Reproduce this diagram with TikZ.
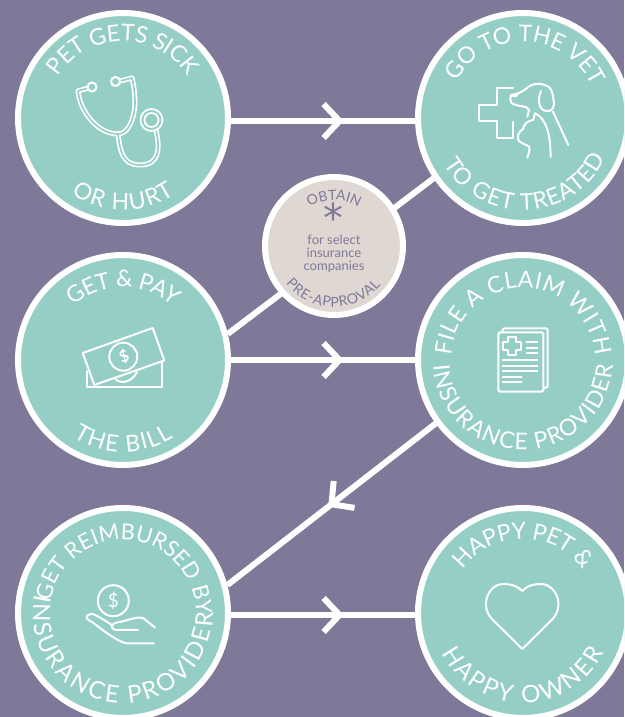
\documentclass[tikz,border=0pt]{standalone}
\usepackage{fontspec}
\setmainfont{Lato}
\newfontfamily\arcfont{Lato}
\newfontfamily\astfont{DejaVu Sans}
\usetikzlibrary{calc,decorations.markings}
\definecolor{bgpurple}{HTML}{807899}
\definecolor{teal}{HTML}{95CEC5}
\definecolor{stone}{HTML}{DFD8D2}
\tikzset{
  bigcircle/.style={circle,draw=white,fill=teal,line width=6pt,minimum size=210pt,inner sep=0pt,outer sep=3pt},
  smallcircle/.style={circle,draw=white,fill=stone,line width=6pt,minimum size=138pt,inner sep=0pt,outer sep=3pt},
  link/.style={draw=white,line width=6pt},
  icon/.style={draw=white,line width=2pt,line cap=round,line join=round},
  arcletter/.style={inner sep=0pt,outer sep=0pt,anchor=base},
  chevron/.style={postaction={decorate},decoration={markings,mark=at position #1 with {\draw[white,line width=6pt,line cap=butt,miter limit=10] (-16pt,-17pt)--(0pt,0pt)--(-16pt,17pt);}}},
}
\newcounter{ltr}
\newcommand\PlaceLetter[7]{\stepcounter{ltr}\node[arcletter,rotate=#4,text=#6] (ltr\theltr) at ($(#1)+(#2:#3pt)$) {\fontsize{#5}{#5}\selectfont\arcfont #7};}
\ExplSyntaxOn
\str_new:N \l_at_str
\tl_new:N \l_at_prefix_tl
\tl_new:N \l_at_ang_tl
\tl_new:N \l_at_rot_tl
\int_new:N \l_at_idx_int
\box_new:N \l_at_a_box
\box_new:N \l_at_b_box
\tl_new:N \l_at_total_tl
% #1 node, #2 radius, #3 centre angle, #4 dir (1 top, -1 bottom), #5 size, #6 tracking, #7 colour, #8 text
\NewDocumentCommand\ArcText{mmmmmmmm}
{
  \group_begin:
  \str_set:Nn \l_at_str {#8}
  \hbox_set:Nn \l_at_a_box {\pgfinterruptpicture\fontsize{#5}{#5}\selectfont\arcfont \l_at_str\endpgfinterruptpicture}
  \tl_set:Nx \l_at_total_tl
    {\fp_eval:n {\dim_to_fp:n {\box_wd:N \l_at_a_box} + (\str_count:N \l_at_str - 1)*(#6)}}
  \tl_clear:N \l_at_prefix_tl
  \int_zero:N \l_at_idx_int
  \str_map_inline:Nn \l_at_str
    {
      \tl_put_right:Nn \l_at_prefix_tl {##1}
      \hbox_set:Nn \l_at_a_box {\pgfinterruptpicture\fontsize{#5}{#5}\selectfont\arcfont \l_at_prefix_tl\endpgfinterruptpicture}
      \hbox_set:Nn \l_at_b_box {\pgfinterruptpicture\fontsize{#5}{#5}\selectfont\arcfont ##1\endpgfinterruptpicture}
      \tl_set:Nx \l_at_ang_tl
        {\fp_eval:n {(#3) - (#4)*((\dim_to_fp:n{\box_wd:N \l_at_a_box} - \dim_to_fp:n{\box_wd:N \l_at_b_box}/2 + \l_at_idx_int*(#6) - \l_at_total_tl/2)/(#2))*180/pi}}
      \tl_set:Nx \l_at_rot_tl {\fp_eval:n {\l_at_ang_tl - (#4)*90}}
      \str_if_eq:nnF {##1} {~}
        { \PlaceLetter{#1}{\l_at_ang_tl}{#2}{\l_at_rot_tl}{#5}{#7}{##1} }
      \int_incr:N \l_at_idx_int
    }
  \group_end:
}
\ExplSyntaxOff
\begin{document}
\begin{tikzpicture}[x=1pt,y=1pt]
\useasboundingbox (0,0) rectangle (624,717);
\clip (0,0) rectangle (624,717);
\fill[bgpurple] (0,0) rectangle (624,717);
\begin{scope}[shift={(0,717)},yscale=-1]
  \node[bigcircle] (sick) at (123,118) {};
  \node[bigcircle] (vet) at (523,118) {};
  \node[bigcircle] (bill) at (123,360) {};
  \node[bigcircle] (claim) at (523,360) {};
  \node[bigcircle] (reimb) at (123,613) {};
  \node[bigcircle] (happy) at (523,613) {};
  % connectors
  \path[link,chevron=0.59] ([yshift=3pt]sick.east) -- ([yshift=3pt]vet.west);
  \path[link,chevron=0.59] (bill.east) -- (claim.west);
  \path[link,chevron=0.59] ([yshift=2pt]reimb.east) -- ([yshift=2pt]happy.west);
  \path[link] (bill.14) -- (vet.214);
  \path[link,chevron=0.50] (claim.216) -- (reimb.15);
  \node[smallcircle] (pre) at (334,246) {};
  % stethoscope
  \begin{scope}
    \foreach \w/\c in {5/white,1.6/teal}{
      \draw[line width=\w pt,\c,line cap=round,line join=round]
        (92,87) -- (78,91) .. controls (80,112) and (98,134) .. (118,134)
        .. controls (128,134) and (134,120) .. (135,104) .. controls (135,95) and (134,86) .. (132,78) -- (116,82);
      \draw[line width=\w pt,\c,line cap=round]
        (118,134) .. controls (120,150) and (122,165) .. (140,165)
        .. controls (160,165) and (160,148) .. (156,130);
    }
    \draw[white,line width=2pt,fill=teal] (92,87) circle (4.5pt);
    \draw[white,line width=2pt,fill=teal] (115.5,81.5) circle (4.5pt);
    \draw[white,line width=1.7pt,fill=teal] (151.5,120) circle (11pt);
    \draw[white,line width=1.7pt] (151.5,120) circle (7pt);
  \end{scope}
  % cross, dog, cat
  \draw[icon] (513,88.5) -- (496.7,88.5) -- (496.7,105) -- (478.5,105) -- (478.5,121) -- (496.7,121) -- (496.7,138.5) -- (513,138.5) -- (513,122);
  \draw[icon] (511,95) .. controls (518,94) and (522,92) .. (527,88) .. controls (532,83) and (543,82) .. (550,88);
  \draw[icon] (511,95) .. controls (510,100) and (510,102) .. (513,104) .. controls (519,107) and (527,105) .. (529,110) -- (527.3,116.7);
  \draw[icon] (541,91) .. controls (537,100) and (539,110) .. (546,111) .. controls (552,112) and (555,108) .. (553.5,100) .. controls (553,95) and (552,91) .. (550,88);
  \draw[icon] (511,95) -- (515,96.5) -- (518,94);
  \draw[icon] (553,111.7) -- (568.3,145);
  \draw[icon] (535,113.3) .. controls (546,118) and (551,135) .. (550.5,157);
  \draw[icon] (535,113.3) -- (533.3,120) .. controls (527,121) and (524,124) .. (523,129) .. controls (519,131) and (517,136) .. (518.3,140) .. controls (520,143) and (525,144) .. (529.3,146.7) .. controls (530,150) and (528.5,154) .. (527.3,157.7);
  % money
  \draw[icon] (82.7,353) -- (152.7,328) -- (164.3,360.5) -- (94.3,385) -- cycle;
  \draw[icon] (87.3,371) -- (87.3,387) -- (161.7,387) -- (161.7,362);
  \draw[icon] (123.3,356.7) circle (14pt);
  \draw[icon] (115,378.5) .. controls (118,383) and (130,385) .. (137,372);
  \node[text=white,rotate=20,font=\fontsize{16}{16}\selectfont\bfseries] (billdollar) at (124,356.7) {\$};
  % document
  \draw[icon,rounded corners=1.5pt] (498.3,332.3) rectangle (543.3,391.7);
  \draw[icon,rounded corners=1.5pt] (502.7,331) -- (502.7,328.3) -- (547.7,328.3) -- (547.7,387.7) -- (544,387.7);
  \draw[icon] (507.5,337) -- (516,337) -- (516,341.7) -- (520.7,341.7) -- (520.7,350) -- (516,350) -- (516,354.7) -- (507.5,354.7) -- (507.5,350) -- (502.7,350) -- (502.7,341.7) -- (507.5,341.7) -- cycle;
  \foreach \yy in {342.3,347.7,353.3}{\draw[icon] (526.7,\yy) -- (537.3,\yy);}
  \foreach \yy in {360,365.7,371}{\draw[icon] (502.7,\yy) -- (537.3,\yy);}
  \foreach \yy in {376.7,382.3}{\draw[icon] (502.7,\yy) -- (521.7,\yy);}
  % hand and coin
  \draw[icon] (113.3,600.7) circle (15.5pt);
  \node[text=white,font=\fontsize{19}{19}\selectfont] (handdollar) at (113.3,600.7) {\$};
  \draw[icon] (155,627.5) -- (143,618) .. controls (138,616) and (130,620) .. (115,623) .. controls (110,625) and (111,630) .. (117,630) -- (138,630);
  \draw[icon] (154,643.3) -- (127,643.3) .. controls (120,643) and (105,632) .. (92,622) .. controls (87,620) and (85,617) .. (88,615) .. controls (92,612) and (96,615) .. (112,625);
  % heart
  \draw[icon] (522.3,591) .. controls (515,584) and (507,584) .. (503,584) .. controls (494,584) and (486,593) .. (486,604) .. controls (486,610) and (488,615) .. (492,619) -- (522.3,649) -- (552.6,619) .. controls (556,615) and (558.5,610) .. (558.5,604) .. controls (558.5,593) and (550,584) .. (541,584) .. controls (537,584) and (529,584) .. (522.3,591) -- cycle;
  % pre-approval centre
  \node[text=bgpurple,font=\astfont\fontsize{40}{40}\selectfont] (star) at (333.5,218) {*};
  \node[text=bgpurple,font=\fontsize{13}{13.3}\selectfont,align=center,inner sep=0pt] (note) at (334,254) {for select\\insurance\\companies};
\end{scope}
\ArcText{sick}{77}{90}{1}{23}{-0.3}{white}{PET GETS SICK}
\ArcText{sick}{92}{-90}{-1}{23}{1.5}{white}{OR HURT}
\ArcText{vet}{76}{88}{1}{23}{-0.3}{white}{GO TO THE VET}
\ArcText{vet}{92}{-88}{-1}{23}{1}{white}{TO GET TREATED}
\ArcText{bill}{73}{90}{1}{23}{-0.5}{white}{GET & PAY}
\ArcText{bill}{92}{-90}{-1}{23}{1.5}{white}{THE BILL}
\ArcText{claim}{72}{90}{1}{23}{0.5}{white}{FILE A CLAIM WITH}
\ArcText{claim}{90}{-90}{-1}{23}{1.4}{white}{INSURANCE PROVIDER}
\ArcText{reimb}{73}{85}{1}{22}{0}{white}{GET REIMBURSED BY}
\ArcText{reimb}{90}{-96}{-1}{24}{2.5}{white}{INSURANCE PROVIDER}
\ArcText{happy}{74}{90}{1}{23}{-0.4}{white}{HAPPY PET &}
\ArcText{happy}{90}{-90}{-1}{24}{2.5}{white}{HAPPY OWNER}
\ArcText{pre}{46}{90}{1}{14}{0}{bgpurple}{OBTAIN}
\ArcText{pre}{61}{-91}{-1}{14}{0.6}{bgpurple}{PRE-APPROVAL}
\end{tikzpicture}
\end{document}
